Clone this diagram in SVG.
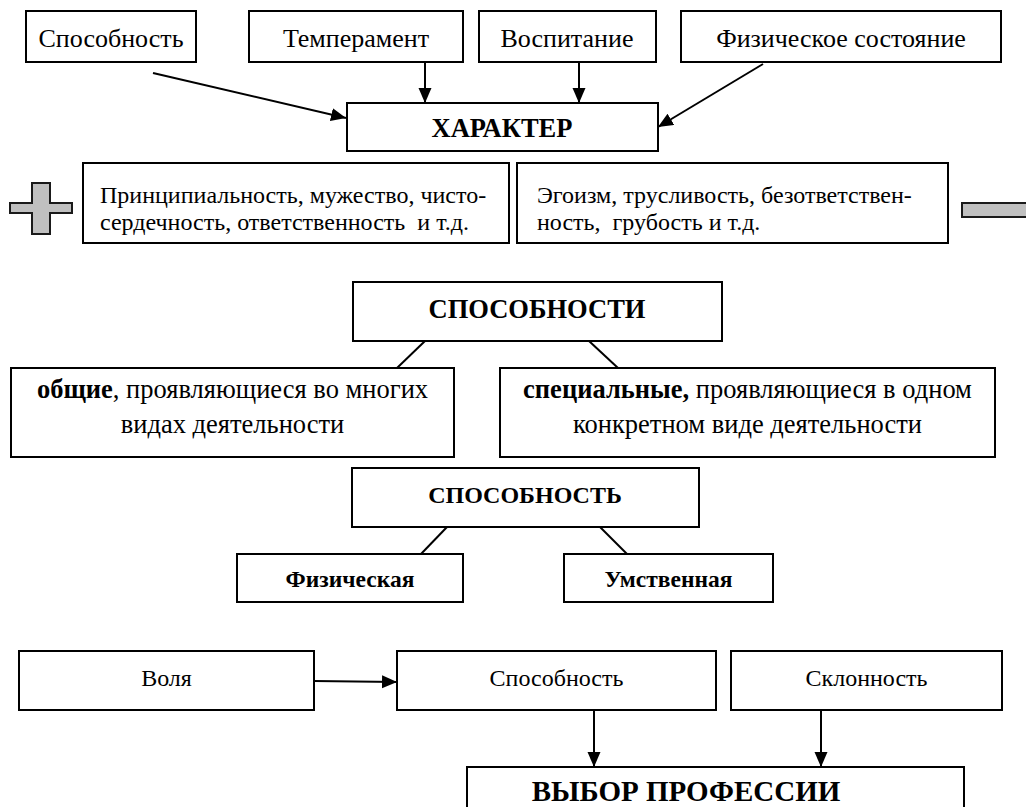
<svg xmlns="http://www.w3.org/2000/svg" width="1026" height="807" viewBox="0 0 1026 807">
<style>
.box{fill:#fff;stroke:#000;stroke-width:2}
.t{font-family:"Liberation Serif","Times New Roman",serif;fill:#000;white-space:pre}
.c{text-anchor:middle}
.b{font-weight:bold}
.ln{stroke:#000;stroke-width:2;fill:none}
.ar{marker-end:url(#ah)}
.sign{fill:#c0c0c0;stroke:#1a1a1a;stroke-width:2}
</style>
<defs>
<marker id="ah" markerUnits="userSpaceOnUse" markerWidth="16" markerHeight="14" refX="15" refY="6.5" orient="auto">
<path d="M0,0 L15,6.5 L0,13 z" fill="#000"/>
</marker>
</defs>
<rect width="1026" height="807" fill="#fff"/>
<g id="connectors">
<line class="ln ar" x1="153" y1="73" x2="346" y2="118"/>
<line class="ln ar" x1="425" y1="62" x2="425" y2="103"/>
<line class="ln ar" x1="579" y1="62" x2="579" y2="103"/>
<line class="ln ar" x1="763" y1="64" x2="658" y2="127"/>
<line class="ln" x1="425" y1="341" x2="397" y2="368"/>
<line class="ln" x1="589" y1="341" x2="618" y2="368"/>
<line class="ln" x1="447" y1="527" x2="421" y2="554"/>
<line class="ln" x1="600" y1="527" x2="627" y2="554"/>
<line class="ln ar" x1="314" y1="681" x2="397" y2="682"/>
<line class="ln ar" x1="594" y1="711" x2="594" y2="767"/>
<line class="ln ar" x1="821" y1="711" x2="821" y2="767"/>
</g>
<g id="n-sposobnost"><rect class="box" x="26" y="11" width="170" height="51"/><text class="t c" x="111" y="47" font-size="26">Способность</text></g>
<g id="n-temperament"><rect class="box" x="249" y="11" width="214" height="51"/><text class="t c" x="356" y="47" font-size="26">Темперамент</text></g>
<g id="n-vospitanie"><rect class="box" x="479" y="11" width="177" height="51"/><text class="t c" x="567" y="47" font-size="26">Воспитание</text></g>
<g id="n-fiz-sost"><rect class="box" x="681" y="11" width="320" height="51"/><text class="t c" x="841" y="47" font-size="26">Физическое состояние</text></g>
<g id="n-harakter"><rect class="box" x="347" y="103" width="311" height="48"/><text class="t c b" x="502" y="137" font-size="26.5">ХАРАКТЕР</text></g>
<g id="n-plus"><polygon class="sign" points="32,183 50,183 50,203 72,203 72,213 50,213 50,234 32,234 32,213 10,213 10,203 32,203"/></g>
<g id="n-positive"><rect class="box" x="83" y="163" width="426" height="80"/><text class="t" font-size="24"><tspan x="100" y="203">Принципиальность, мужество, чисто-</tspan><tspan x="100" y="230">сердечность, ответственность  и т.д.</tspan></text></g>
<g id="n-negative"><rect class="box" x="517" y="163" width="431" height="80"/><text class="t" font-size="24"><tspan x="537" y="203">Эгоизм, трусливость, безответствен-</tspan><tspan x="537" y="230">ность,  грубость и т.д.</tspan></text></g>
<g id="n-minus"><rect class="sign" x="962" y="203" width="80" height="14"/></g>
<g id="n-sposobnosti"><rect class="box" x="353" y="282" width="369" height="59"/><text class="t c b" x="537" y="318" font-size="26.5">СПОСОБНОСТИ</text></g>
<g id="n-obshchie"><rect class="box" x="11" y="368" width="443" height="89"/><text class="t c" font-size="26.5"><tspan x="232.5" y="398"><tspan font-weight="bold">общие</tspan>, проявляющиеся во многих</tspan><tspan x="232.5" y="433">видах деятельности</tspan></text></g>
<g id="n-specialnye"><rect class="box" x="500" y="368" width="495" height="89"/><text class="t c" font-size="26.5"><tspan x="747.5" y="398"><tspan font-weight="bold">специальные,</tspan> проявляющиеся в одном</tspan><tspan x="747.5" y="433">конкретном виде деятельности</tspan></text></g>
<g id="n-sposobnost2"><rect class="box" x="352" y="468" width="347" height="59"/><text class="t c b" x="525" y="503" font-size="24">СПОСОБНОСТЬ</text></g>
<g id="n-fizicheskaya"><rect class="box" x="237" y="554" width="226" height="48"/><text class="t c b" x="350" y="587" font-size="23.5">Физическая</text></g>
<g id="n-umstvennaya"><rect class="box" x="564" y="554" width="209" height="48"/><text class="t c b" x="668.5" y="587" font-size="23.5">Умственная</text></g>
<g id="n-volya"><rect class="box" x="19" y="651" width="295" height="59"/><text class="t c" x="166.5" y="686" font-size="24">Воля</text></g>
<g id="n-sposobnost3"><rect class="box" x="397" y="651" width="319" height="59"/><text class="t c" x="556.5" y="686" font-size="24">Способность</text></g>
<g id="n-sklonnost"><rect class="box" x="731" y="651" width="271" height="59"/><text class="t c" x="866.5" y="686" font-size="24">Склонность</text></g>
<g id="n-vybor"><rect class="box" x="467" y="767" width="497" height="70"/><text class="t c b" x="686" y="801" font-size="29">ВЫБОР ПРОФЕССИИ</text></g>
</svg>
